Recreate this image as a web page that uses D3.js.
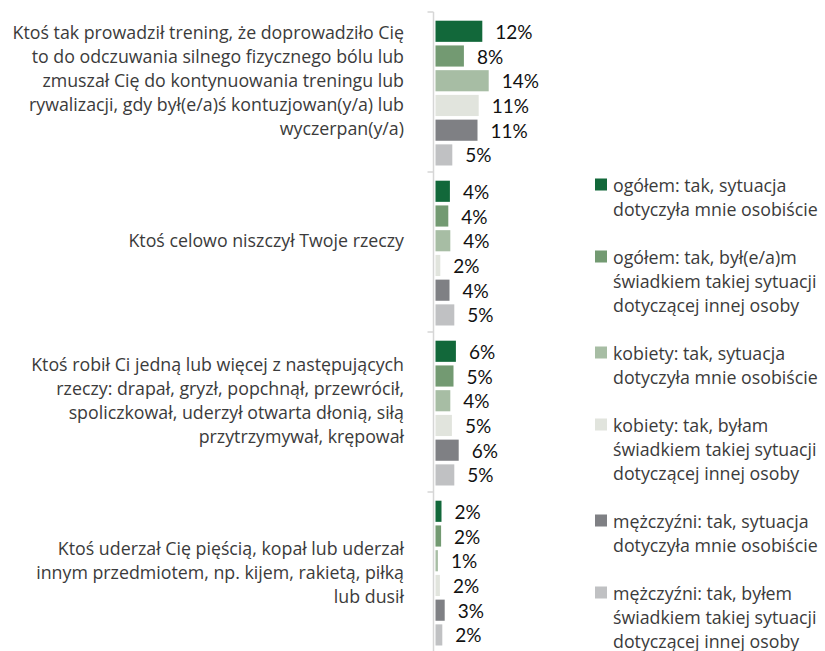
<!DOCTYPE html>
<html>
<head>
<meta charset="utf-8">
<script src="https://cdn.jsdelivr.net/npm/d3@7/dist/d3.min.js"></script>
<style>
  html, body { margin: 0; padding: 0; background: #fff; }
  svg { display: block; }
</style>
</head>
<body>
<svg id="chart" width="825" height="651"></svg>
<script>
// ---- data ----
const categories = [
  ["Ktoś tak prowadził trening, że doprowadziło Cię",
   "to do odczuwania silnego fizycznego bólu lub",
   "zmuszał Cię do kontynuowania treningu lub",
   "rywalizacji, gdy był(e/a)ś kontuzjowan(y/a) lub",
   "wyczerpan(y/a)", ""],
  ["Ktoś celowo niszczył Twoje rzeczy", ""],
  ["Ktoś robił Ci jedną lub więcej z następujących",
   "rzeczy: drapał, gryzł, popchnął, przewrócił,",
   "spoliczkował, uderzył otwarta dłonią, siłą",
   "przytrzymywał, krępował", ""],
  ["Ktoś uderzał Cię pięścią, kopał lub uderzał",
   "innym przedmiotem, np. kijem, rakietą, piłką",
   "lub dusił"]
];

const seriesNames = [
  ["ogółem: tak, sytuacja", "dotyczyła mnie osobiście"],
  ["ogółem: tak, był(e/a)m", "świadkiem takiej sytuacji", "dotyczącej innej osoby"],
  ["kobiety: tak, sytuacja", "dotyczyła mnie osobiście"],
  ["kobiety: tak, byłam", "świadkiem takiej sytuacji", "dotyczącej innej osoby"],
  ["mężczyźni: tak, sytuacja", "dotyczyła mnie osobiście"],
  ["mężczyźni: tak, byłem", "świadkiem takiej sytuacji", "dotyczącej innej osoby"]
];

const seriesColors = ["#12683a", "#739a72", "#a7bda4", "#e1e4dd", "#7f8084", "#c0c1c3"];

// values (%) per series, one per category
const ogolemOsobiscie   = [12.2, 4.1, 5.6, 2.0];
const ogolemSwiadek     = [7.6, 3.7, 5.0, 1.9];
const kobietyOsobiscie  = [13.8, 4.2, 4.2, 1.1];
const kobietySwiadek    = [11.3, 1.7, 4.6, 1.6];
const mezczyzniOsobiscie= [11.0, 4.0, 6.3, 2.8];
const mezczyzniSwiadek  = [4.7, 5.2, 5.2, 2.2];

const seriesValues = [ogolemOsobiscie, ogolemSwiadek, kobietyOsobiscie,
                      kobietySwiadek, mezczyzniOsobiscie, mezczyzniSwiadek];

// ---- layout ----
const svg = d3.select("#chart");
const axisX = 433.5;
const plotTop = 12, plotBottom = 652;
const textColor = "#3b3b3b";
const catFont = "'Open Sans', 'Noto Sans', sans-serif";
const numFont = "Lato, 'Open Sans', sans-serif";
const catSize = 17.8;

const y0 = d3.scaleBand()
  .domain(d3.range(categories.length))
  .range([plotTop, plotBottom])
  .paddingInner(0)
  .paddingOuter(0);

const y1 = d3.scaleBand()
  .domain(d3.range(seriesValues.length))
  .range([8.7, y0.bandwidth() - 6.5])
  .paddingInner(0.145)
  .paddingOuter(0);

const x = d3.scaleLinear().domain([0, 100]).range([axisX, axisX + 400]);

// axis
const axisG = svg.append("g").attr("transform", `translate(${axisX},0)`);
axisG.append("line")
  .attr("x1", 0).attr("x2", 0).attr("y1", plotTop).attr("y2", 651)
  .attr("stroke", "#d6d6d6").attr("stroke-width", 1.5);
axisG.selectAll("line.tick")
  .data(d3.range(categories.length))
  .join("line")
  .attr("class", "tick")
  .attr("x1", -6).attr("x2", 0)
  .attr("y1", d => y0(d)).attr("y2", d => y0(d))
  .attr("stroke", "#d6d6d6").attr("stroke-width", 1.5);

// groups
const groups = svg.selectAll("g.cat")
  .data(categories)
  .join("g")
  .attr("class", "cat")
  .attr("transform", (d, i) => `translate(0,${y0(i)})`);

groups.each(function(lines, ci) {
  const g = d3.select(this);
  const rows = seriesValues.map((vals, si) => ({ si, v: vals[ci] }));
  g.selectAll("rect")
    .data(rows)
    .join("rect")
    .attr("x", axisX + 2)
    .attr("y", d => y1(d.si))
    .attr("width", d => Math.max(0, x(d.v) - axisX - 2))
    .attr("height", y1.bandwidth())
    .attr("fill", d => seriesColors[d.si]);

  g.selectAll("text.val")
    .data(rows)
    .join("text")
    .attr("class", "val")
    .attr("x", d => x(d.v) + 13)
    .attr("y", d => y1(d.si) + y1.bandwidth() / 2 + 7.5)
    .attr("font-family", numFont)
    .attr("font-size", 19)
    .attr("fill", "#111")
    .text(d => Math.round(d.v) + "%");

  const n = lines.length;
  const cy = y0.bandwidth() / 2;
  g.selectAll("text.catlabel")
    .data(lines)
    .join("text")
    .attr("class", "catlabel")
    .attr("x", 404)
    .attr("y", (d, i) => cy + (i - (n - 1) / 2) * 24 + 6.5)
    .attr("text-anchor", "end")
    .attr("font-family", catFont)
    .attr("font-size", catSize)
    .attr("fill", textColor)
    .text(d => d);
});

// legend
let ly = 191.5;
const legend = svg.append("g");
seriesNames.forEach((lines, si) => {
  legend.append("rect")
    .attr("x", 595).attr("y", ly - 13)
    .attr("width", 12).attr("height", 12)
    .attr("fill", seriesColors[si]);
  lines.forEach((t, li) => {
    legend.append("text")
      .attr("x", 613).attr("y", ly + li * 24)
      .attr("font-family", catFont)
      .attr("font-size", catSize)
      .attr("fill", textColor)
      .text(t);
  });
  ly += (lines.length + 1) * 24;
});
</script>
</body>
</html>
